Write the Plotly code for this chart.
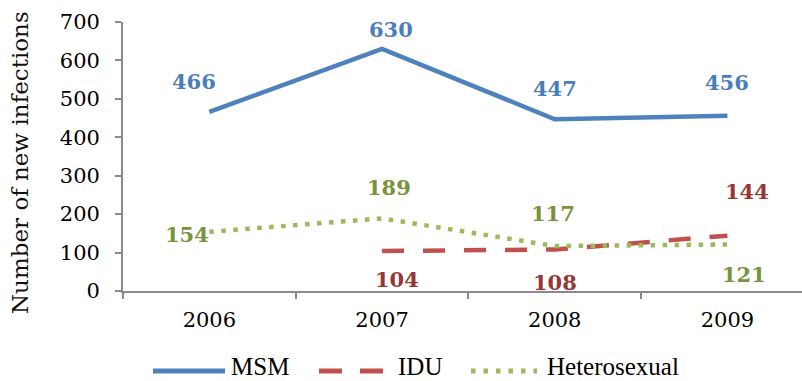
import plotly.graph_objects as go

# Annual new infections by transmission group
years = ["2006", "2007", "2008", "2009"]
msm = [466, 630, 447, 456]
idu = [None, 104, 108, 144]
hetero = [154, 189, 117, 121]

y_ticks = [0, 100, 200, 300, 400, 500, 600, 700]

BLUE = "#4F81BD"
RED = "#C0504D"
GREEN = "#9BBB59"
BLUE_TXT = "#4A7EBB"
RED_TXT = "#953735"
GREEN_TXT = "#77933C"

W, H = 802, 381
ML, MR, MT, MB = 123, 0, 22, 90
PW, PH = W - ML - MR, H - MT - MB

fig = go.Figure()

fig.add_trace(go.Scatter(x=years, y=msm, mode="lines", name="MSM",
                         line=dict(color=BLUE, width=4.5), showlegend=False))
fig.add_trace(go.Scatter(x=years, y=idu, mode="lines", name="IDU",
                         line=dict(color=RED, width=4.5, dash="22px,19px"),
                         connectgaps=False, showlegend=False))
fig.add_trace(go.Scatter(x=years, y=hetero, mode="lines", name="Heterosexual",
                         line=dict(color=GREEN, width=4.5, dash="4.5px,7.5px"),
                         showlegend=False))

# value labels: (series, colour, pixel offsets per point)
label_specs = [
    (msm, BLUE_TXT, [(-15, 30), (9, 19), (0, 31), (0, 33)]),
    (idu, RED_TXT, [None, (15, -28), (0, -33), (20, 44)]),
    (hetero, GREEN_TXT, [(-22, -3), (7, 31), (-2, 33), (17, -30)]),
]
annotations = []
for values, colour, offsets in label_specs:
    for idx, (v, off) in enumerate(zip(values, offsets)):
        if v is None or off is None:
            continue
        # category axis position given by index of the year
        annotations.append(dict(
            x=idx, y=v, xref="x", yref="y", text=str(v), showarrow=False,
            xshift=off[0], yshift=off[1], xanchor="center", yanchor="middle",
            font=dict(family="DejaVu Serif", size=21, color=colour, weight="bold"),
        ))


def px_x(p):
    return (p - ML) / PW


def px_y(p):
    return (H - MB - p) / PH


# y-axis title
annotations.append(dict(
    x=px_x(20), y=px_y(163), xref="paper", yref="paper",
    text="Number of new infections", textangle=-90, showarrow=False,
    xanchor="center", yanchor="middle",
    font=dict(family="DejaVu Serif", size=23, color="#111111"),
))

# legend drawn beneath the plot
LEG_Y = 371
legend_items = [
    ("MSM", BLUE, "solid", 153, 225, 230),
    ("IDU", RED, "23px,18px", 319, 383, 397),
    ("Heterosexual", GREEN, "4.5px,8px", 471, 537, 546),
]
shapes = []
for name, colour, dash, x0, x1, tx in legend_items:
    shapes.append(dict(
        type="line", xref="paper", yref="paper",
        x0=px_x(x0), x1=px_x(x1), y0=px_y(LEG_Y), y1=px_y(LEG_Y),
        line=dict(color=colour, width=5, dash=dash),
    ))
    annotations.append(dict(
        x=px_x(tx), y=px_y(H), xref="paper", yref="paper",
        text=name, showarrow=False, xanchor="left", yanchor="bottom",
        borderpad=0,
        font=dict(family="Liberation Serif", size=25, color="#000000"),
    ))

axis_col = "#8A8A8A"
fig.update_layout(
    width=W, height=H,
    margin=dict(l=ML, r=MR, t=MT, b=MB, pad=0),
    paper_bgcolor="white", plot_bgcolor="white",
    showlegend=False,
    annotations=annotations,
    shapes=shapes,
    xaxis=dict(
        type="category", range=[-0.5, (W - ML) / ((W - ML + 11.8) / 4) - 0.5],
        showline=True, linecolor=axis_col, linewidth=1.8,
        ticks="outside", tickson="boundaries", ticklen=6, tickwidth=1.8,
        tickcolor=axis_col, showgrid=False, zeroline=False,
        tickfont=dict(family="DejaVu Serif", size=21, color="#000000"),
        ticklabelstandoff=9,
    ),
    yaxis=dict(
        range=[0, 700], tickvals=y_ticks, ticktext=[str(v) for v in y_ticks],
        showline=True, linecolor=axis_col, linewidth=1.8,
        ticks="outside", ticklen=6, tickwidth=1.8, tickcolor=axis_col,
        showgrid=False, zeroline=False,
        tickfont=dict(family="DejaVu Serif", size=21, color="#000000"),
        ticklabelstandoff=11,
    ),
)

fig.write_html("out.html")
